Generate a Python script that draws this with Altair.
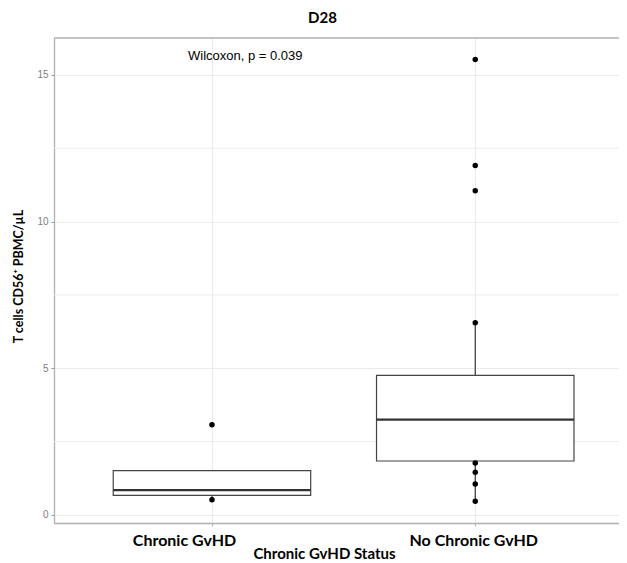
import altair as alt
import pandas as pd

# ---- data ----
groups = ["Chronic GvHD", "No Chronic GvHD"]
group_pos = [1, 2]
q1 = [0.67, 1.84]
median = [0.85, 3.25]
q3 = [1.51, 4.76]
whisker_low = [0.52, 0.47]
whisker_high = [1.51, 6.55]

point_pos = [1, 1, 2, 2, 2, 2, 2, 2, 2, 2]
point_value = [3.08, 0.52, 15.53, 11.91, 11.05, 6.55, 1.77, 1.46, 1.06, 0.47]

minor_grid = [2.5, 7.5, 12.5]
y_ticks = [0, 5, 10, 15]

annotation = "Wilcoxon, p = 0.039"
annot_x = [0.909]
annot_y = [15.65]

W, H = 565, 485
GRID = "#ebebeb"
FRAME = "#b0b0b0"

box_df = pd.DataFrame({"group": groups, "pos": group_pos, "q1": q1, "median": median,
                       "q3": q3, "lo": whisker_low, "hi": whisker_high})
pts_df = pd.DataFrame({"pos": point_pos, "value": point_value})
minor_df = pd.DataFrame({"v": minor_grid})
ann_df = pd.DataFrame({"x": annot_x, "y": annot_y, "label": [annotation]})

xscale = alt.Scale(domain=[0.4, 2.546], nice=False, zero=False)
yscale = alt.Scale(domain=[-0.273, 16.26], nice=False, zero=False)

label_map = "datum.value == 1 ? 'Chronic GvHD' : (datum.value == 2 ? 'No Chronic GvHD' : '')"

xaxis = alt.Axis(values=[1, 2], labelExpr=label_map, grid=True, gridColor=GRID, gridWidth=1,
                 domainColor=FRAME, domainWidth=1.3, tickColor=FRAME, tickSize=3,
                 labelFont="Lato", labelFontWeight="bold", labelFontSize=16, labelColor="black",
                 labelPadding=6,
                 labelOffset={"condition": {"test": "datum.value == 1", "value": -28}, "value": -2},
                 title="Chronic GvHD Status", titleFont="Lato", titleFontWeight="bold",
                 titleFontSize=15, titleColor="black", titleX=270, titleY=35,
                 titleAnchor="middle", titleAlign="center", titleBaseline="alphabetic")

yaxis = alt.Axis(values=y_ticks, grid=True, gridColor=GRID, gridWidth=1,
                 domainColor=FRAME, domainWidth=1.3, tickColor="#999999", tickSize=3,
                 labelFont="Liberation Sans", labelFontSize=10, labelColor="#808080", labelPadding=3,
                 title="T cells CD56⁺ PBMC/µL", titleFont="Lato", titleFontWeight="bold",
                 titleFontSize=12.5, titleColor="black", titleAngle=-90, titleX=-36, titleY=238,
                 titleAlign="center", titleBaseline="middle")

minor = alt.Chart(minor_df).mark_rule(color=GRID, strokeWidth=1).encode(
    y=alt.Y("v:Q", scale=yscale, axis=yaxis), x=alt.value(0), x2=alt.value(W))

whisk = alt.Chart(box_df).mark_rule(color="#333333", strokeWidth=1.2).encode(
    x=alt.X("pos:Q", scale=xscale, axis=xaxis),
    y=alt.Y("lo:Q", scale=yscale, axis=yaxis), y2="hi:Q")

box = alt.Chart(box_df).transform_calculate(
    x1="datum.pos - 0.375", x2="datum.pos + 0.375").mark_rect(
    fill="white", stroke="#444444", strokeWidth=1.2).encode(
    x=alt.X("x1:Q", scale=xscale), x2="x2:Q",
    y=alt.Y("q1:Q", scale=yscale), y2="q3:Q")

med = alt.Chart(box_df).transform_calculate(
    x1="datum.pos - 0.375", x2="datum.pos + 0.375").mark_rule(
    color="#333333", strokeWidth=2.2).encode(
    x=alt.X("x1:Q", scale=xscale), x2="x2:Q", y=alt.Y("median:Q", scale=yscale))

pts = alt.Chart(pts_df).mark_circle(color="black", opacity=1, size=30).encode(
    x=alt.X("pos:Q", scale=xscale), y=alt.Y("value:Q", scale=yscale))

ann = alt.Chart(ann_df).mark_text(font="Liberation Sans", fontSize=13, color="black",
                                  align="left", baseline="middle").encode(
    x=alt.X("x:Q", scale=xscale), y=alt.Y("y:Q", scale=yscale), text="label:N")

top_border = alt.Chart(pd.DataFrame({"a": [0]})).mark_rule(color=FRAME, strokeWidth=1.3).encode(
    x=alt.value(0), x2=alt.value(W), y=alt.value(0))

chart = alt.layer(minor, whisk, box, med, pts, ann, top_border).properties(
    width=W, height=H,
    title=alt.TitleParams("D28", font="Lato", fontSize=15, fontWeight="bold", color="black",
                          anchor="middle", dx=-14, offset=-1, baseline="alphabetic"),
    autosize=alt.AutoSizeParams(type="none"),
    padding={"left": 46, "top": 30, "right": 0, "bottom": 40},
).configure_view(stroke=None)

chart.save("out.html", embed_options={"renderer": "svg", "actions": False})
